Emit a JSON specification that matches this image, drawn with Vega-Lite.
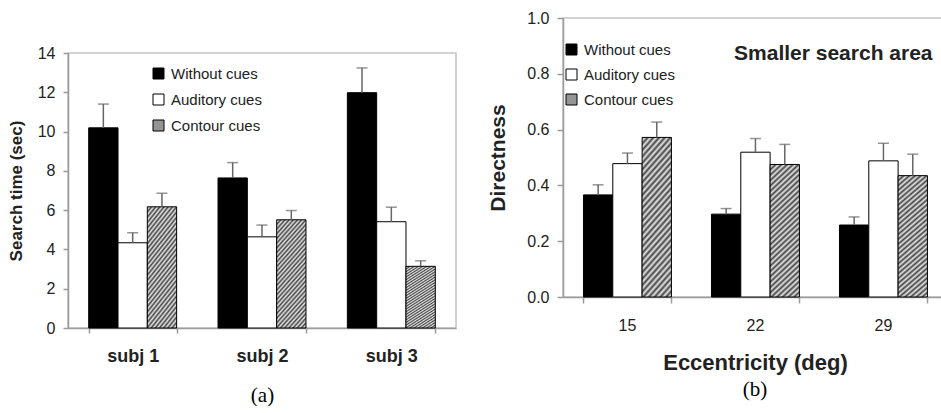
{
  "$schema": "https://vega.github.io/schema/vega-lite/v6.json",
  "padding": {"left": 6, "top": 9, "right": 0, "bottom": 0},
  "background": "white",
  "config": {
    "view": {"stroke": "#c4c4c4", "strokeWidth": 1.5},
    "font": "Liberation Sans",
    "axis": {"grid": false, "domainColor": "#9a9a9a", "tickColor": "#9a9a9a", "domainWidth": 1.5, "tickWidth": 1.5, "labelColor": "#222", "titleColor": "#222", "labelFont": "Liberation Sans", "titleFont": "Liberation Sans", "labelOverlap": false},
    "legend": {"padding": 0, "labelFont": "Liberation Sans", "labelColor": "#222"}
  },
  "datasets": {
    "a": [
      {"group": "subj 1", "cond": "Without cues", "value": 10.19, "upper": 11.40},
      {"group": "subj 1", "cond": "Auditory cues", "value": 4.34, "upper": 4.85},
      {"group": "subj 1", "cond": "Contour cues", "value": 6.17, "upper": 6.86},
      {"group": "subj 2", "cond": "Without cues", "value": 7.64, "upper": 8.42},
      {"group": "subj 2", "cond": "Auditory cues", "value": 4.64, "upper": 5.24},
      {"group": "subj 2", "cond": "Contour cues", "value": 5.51, "upper": 5.98},
      {"group": "subj 3", "cond": "Without cues", "value": 11.98, "upper": 13.24},
      {"group": "subj 3", "cond": "Auditory cues", "value": 5.41, "upper": 6.15},
      {"group": "subj 3", "cond": "Contour cues", "value": 3.14, "upper": 3.42}
    ],
    "b": [
      {"group": "15", "cond": "Without cues", "value": 0.366, "upper": 0.402},
      {"group": "15", "cond": "Auditory cues", "value": 0.478, "upper": 0.516},
      {"group": "15", "cond": "Contour cues", "value": 0.572, "upper": 0.627},
      {"group": "22", "cond": "Without cues", "value": 0.297, "upper": 0.317},
      {"group": "22", "cond": "Auditory cues", "value": 0.519, "upper": 0.568},
      {"group": "22", "cond": "Contour cues", "value": 0.475, "upper": 0.547},
      {"group": "29", "cond": "Without cues", "value": 0.258, "upper": 0.287},
      {"group": "29", "cond": "Auditory cues", "value": 0.488, "upper": 0.551},
      {"group": "29", "cond": "Contour cues", "value": 0.435, "upper": 0.512}
    ],
    "note": [{"label": "Smaller search area"}],
    "none": []
  },
  "resolve": {"scale": {"fill": "independent"}, "legend": {"fill": "independent"}},
  "spacing": 30,
  "hconcat": [
    {
      "spacing": 0,
      "vconcat": [
        {"width": 388, "height": 26, "data": {"name": "none"}, "mark": "point", "encoding": {}, "view": {"stroke": null}},
        {
          "width": 388,
          "height": 275,
          "data": {"name": "a"},
          "encoding": {
            "x": {"field": "group", "type": "nominal", "sort": null,
              "scale": {"paddingInner": 0.32, "paddingOuter": 0.16},
              "axis": {"title": "(a)", "titleFont": "Liberation Serif", "titleFontWeight": "normal", "titleFontSize": 21, "titleColor": "black", "titlePadding": 19,
                "labelAngle": 0, "labelFontSize": 18, "labelFontWeight": "bold", "labelPadding": 14, "tickBand": "extent", "tickSize": 5}},
            "xOffset": {"field": "cond", "type": "nominal", "sort": ["Without cues", "Auditory cues", "Contour cues"], "scale": {"paddingInner": 0, "paddingOuter": 0}}
          },
          "layer": [
            {
              "mark": {"type": "bar", "stroke": "black", "strokeWidth": 1},
              "encoding": {
                "y": {"field": "value", "type": "quantitative", "scale": {"domain": [0, 14], "nice": false},
                  "axis": {"values": [0, 2, 4, 6, 8, 10, 12, 14], "tickCount": 10, "labelOverlap": false, "title": "Search time (sec)", "titleFontSize": 17, "titleFontWeight": "bold", "titlePadding": 12, "labelFontSize": 16, "labelPadding": 8, "tickSize": 5}},
                "fill": {
                  "condition": {"test": "datum.cond === 'Contour cues'", "value": {"gradient": "linear", "x1": 0, "y1": 0, "x2": 0.362, "y2": 1.19, "stops": [
                      {"offset": 0, "color": "#444"}, {"offset": 0.0167, "color": "#e6e6e6"}, {"offset": 0.0333, "color": "#444"}, {"offset": 0.05, "color": "#e6e6e6"}, {"offset": 0.0667, "color": "#444"}, {"offset": 0.0833, "color": "#e6e6e6"}, {"offset": 0.1, "color": "#444"}, {"offset": 0.1167, "color": "#e6e6e6"}, {"offset": 0.1333, "color": "#444"}, {"offset": 0.15, "color": "#e6e6e6"}, {"offset": 0.1667, "color": "#444"}, {"offset": 0.1833, "color": "#e6e6e6"}, {"offset": 0.2, "color": "#444"}, {"offset": 0.2167, "color": "#e6e6e6"}, {"offset": 0.2333, "color": "#444"}, {"offset": 0.25, "color": "#e6e6e6"}, {"offset": 0.2667, "color": "#444"}, {"offset": 0.2833, "color": "#e6e6e6"}, {"offset": 0.3, "color": "#444"}, {"offset": 0.3167, "color": "#e6e6e6"}, {"offset": 0.3333, "color": "#444"}, {"offset": 0.35, "color": "#e6e6e6"}, {"offset": 0.3667, "color": "#444"}, {"offset": 0.3833, "color": "#e6e6e6"}, {"offset": 0.4, "color": "#444"}, {"offset": 0.4167, "color": "#e6e6e6"}, {"offset": 0.4333, "color": "#444"}, {"offset": 0.45, "color": "#e6e6e6"}, {"offset": 0.4667, "color": "#444"}, {"offset": 0.4833, "color": "#e6e6e6"}, {"offset": 0.5, "color": "#444"}, {"offset": 0.5167, "color": "#e6e6e6"}, {"offset": 0.5333, "color": "#444"}, {"offset": 0.55, "color": "#e6e6e6"}, {"offset": 0.5667, "color": "#444"}, {"offset": 0.5833, "color": "#e6e6e6"}, {"offset": 0.6, "color": "#444"}, {"offset": 0.6167, "color": "#e6e6e6"}, {"offset": 0.6333, "color": "#444"}, {"offset": 0.65, "color": "#e6e6e6"}, {"offset": 0.6667, "color": "#444"}, {"offset": 0.6833, "color": "#e6e6e6"}, {"offset": 0.7, "color": "#444"}, {"offset": 0.7167, "color": "#e6e6e6"}, {"offset": 0.7333, "color": "#444"}, {"offset": 0.75, "color": "#e6e6e6"}, {"offset": 0.7667, "color": "#444"}, {"offset": 0.7833, "color": "#e6e6e6"}, {"offset": 0.8, "color": "#444"}, {"offset": 0.8167, "color": "#e6e6e6"}, {"offset": 0.8333, "color": "#444"}, {"offset": 0.85, "color": "#e6e6e6"}, {"offset": 0.8667, "color": "#444"}, {"offset": 0.8833, "color": "#e6e6e6"}, {"offset": 0.9, "color": "#444"}, {"offset": 0.9167, "color": "#e6e6e6"}, {"offset": 0.9333, "color": "#444"}, {"offset": 0.95, "color": "#e6e6e6"}, {"offset": 0.9667, "color": "#444"}, {"offset": 0.9833, "color": "#e6e6e6"}, {"offset": 1, "color": "#444"}
                    ]}},
                  "field": "cond", "type": "nominal",
                  "scale": {"domain": ["Without cues", "Auditory cues", "Contour cues"], "range": ["black", "white", "#959595"]},
                  "legend": {"orient": "none", "legendX": 83, "legendY": 48, "title": null, "symbolType": "square", "symbolSize": 121, "symbolStrokeColor": "black", "symbolStrokeWidth": 1, "labelFontSize": 15, "labelOffset": 5, "rowPadding": 10,
                    "encode": {"symbols": {"update": {"stroke": {"value": "black"}, "strokeWidth": {"value": 1}, "fill": [
                      {"test": "datum.label === 'Without cues'", "value": "black"},
                      {"test": "datum.label === 'Auditory cues'", "value": "white"},
                      {"value": {"gradient": "linear", "x1": 0, "y1": 1, "x2": 0.5, "y2": 0.5, "stops": [{"offset": 0, "color": "#444"}, {"offset": 0.15, "color": "#e6e6e6"}, {"offset": 0.3, "color": "#444"}, {"offset": 0.45, "color": "#e6e6e6"}, {"offset": 0.6, "color": "#444"}, {"offset": 0.75, "color": "#e6e6e6"}, {"offset": 0.9, "color": "#444"}, {"offset": 1, "color": "#bbb"}]}}
                    ]}}}}
                }
              }
            },
            {
              "mark": {"type": "rule", "color": "#666", "strokeWidth": 1.5},
              "encoding": {"y": {"field": "value", "type": "quantitative"}, "y2": {"field": "upper"}}
            },
            {
              "mark": {"type": "tick", "color": "#666", "thickness": 1.5, "size": 11},
              "encoding": {"y": {"field": "upper", "type": "quantitative"}}
            }
          ]
        }
      ]
    },
    {
      "width": 384,
      "height": 279,
      "title": {"text": "(b)", "orient": "bottom", "font": "Liberation Serif", "fontWeight": "normal", "fontSize": 21, "color": "black", "offset": 6},
      "layer": [
        {
          "data": {"name": "b"},
          "encoding": {
            "x": {"field": "group", "type": "nominal", "sort": null,
              "scale": {"paddingInner": 0.32, "paddingOuter": 0.16},
              "axis": {"title": "Eccentricity (deg)", "titleFontSize": 22, "titleFontWeight": "bold", "titlePadding": 19,
                "labelAngle": 0, "labelFontSize": 16, "labelPadding": 14, "tickBand": "extent", "tickSize": 6}},
            "xOffset": {"field": "cond", "type": "nominal", "sort": ["Without cues", "Auditory cues", "Contour cues"], "scale": {"paddingInner": 0, "paddingOuter": 0}}
          },
          "layer": [
            {
              "mark": {"type": "bar", "stroke": "black", "strokeWidth": 1},
              "encoding": {
                "y": {"field": "value", "type": "quantitative", "scale": {"domain": [0, 1], "nice": false},
                  "axis": {"values": [0, 0.2, 0.4, 0.6, 0.8, 1], "tickCount": 8, "format": ".1f", "title": "Directness", "titleFontSize": 21, "titleFontWeight": "bold", "titlePadding": 18, "labelFontSize": 16, "labelPadding": 8, "tickSize": 6}},
                "fill": {
                  "condition": {"test": "datum.cond === 'Contour cues'", "value": {"gradient": "linear", "x1": 0, "y1": 0, "x2": 0.24, "y2": 1.16, "stops": [
                      {"offset": 0, "color": "#444"}, {"offset": 0.0167, "color": "#e6e6e6"}, {"offset": 0.0333, "color": "#444"}, {"offset": 0.05, "color": "#e6e6e6"}, {"offset": 0.0667, "color": "#444"}, {"offset": 0.0833, "color": "#e6e6e6"}, {"offset": 0.1, "color": "#444"}, {"offset": 0.1167, "color": "#e6e6e6"}, {"offset": 0.1333, "color": "#444"}, {"offset": 0.15, "color": "#e6e6e6"}, {"offset": 0.1667, "color": "#444"}, {"offset": 0.1833, "color": "#e6e6e6"}, {"offset": 0.2, "color": "#444"}, {"offset": 0.2167, "color": "#e6e6e6"}, {"offset": 0.2333, "color": "#444"}, {"offset": 0.25, "color": "#e6e6e6"}, {"offset": 0.2667, "color": "#444"}, {"offset": 0.2833, "color": "#e6e6e6"}, {"offset": 0.3, "color": "#444"}, {"offset": 0.3167, "color": "#e6e6e6"}, {"offset": 0.3333, "color": "#444"}, {"offset": 0.35, "color": "#e6e6e6"}, {"offset": 0.3667, "color": "#444"}, {"offset": 0.3833, "color": "#e6e6e6"}, {"offset": 0.4, "color": "#444"}, {"offset": 0.4167, "color": "#e6e6e6"}, {"offset": 0.4333, "color": "#444"}, {"offset": 0.45, "color": "#e6e6e6"}, {"offset": 0.4667, "color": "#444"}, {"offset": 0.4833, "color": "#e6e6e6"}, {"offset": 0.5, "color": "#444"}, {"offset": 0.5167, "color": "#e6e6e6"}, {"offset": 0.5333, "color": "#444"}, {"offset": 0.55, "color": "#e6e6e6"}, {"offset": 0.5667, "color": "#444"}, {"offset": 0.5833, "color": "#e6e6e6"}, {"offset": 0.6, "color": "#444"}, {"offset": 0.6167, "color": "#e6e6e6"}, {"offset": 0.6333, "color": "#444"}, {"offset": 0.65, "color": "#e6e6e6"}, {"offset": 0.6667, "color": "#444"}, {"offset": 0.6833, "color": "#e6e6e6"}, {"offset": 0.7, "color": "#444"}, {"offset": 0.7167, "color": "#e6e6e6"}, {"offset": 0.7333, "color": "#444"}, {"offset": 0.75, "color": "#e6e6e6"}, {"offset": 0.7667, "color": "#444"}, {"offset": 0.7833, "color": "#e6e6e6"}, {"offset": 0.8, "color": "#444"}, {"offset": 0.8167, "color": "#e6e6e6"}, {"offset": 0.8333, "color": "#444"}, {"offset": 0.85, "color": "#e6e6e6"}, {"offset": 0.8667, "color": "#444"}, {"offset": 0.8833, "color": "#e6e6e6"}, {"offset": 0.9, "color": "#444"}, {"offset": 0.9167, "color": "#e6e6e6"}, {"offset": 0.9333, "color": "#444"}, {"offset": 0.95, "color": "#e6e6e6"}, {"offset": 0.9667, "color": "#444"}, {"offset": 0.9833, "color": "#e6e6e6"}, {"offset": 1, "color": "#444"}
                    ]}},
                  "field": "cond", "type": "nominal",
                  "scale": {"domain": ["Without cues", "Auditory cues", "Contour cues"], "range": ["black", "white", "#959595"]},
                  "legend": {"orient": "none", "legendX": 1, "legendY": 24, "title": null, "symbolType": "square", "symbolSize": 121, "symbolStrokeColor": "black", "symbolStrokeWidth": 1, "labelFontSize": 15, "labelOffset": 5, "rowPadding": 9,
                    "encode": {"symbols": {"update": {"stroke": {"value": "black"}, "strokeWidth": {"value": 1}, "fill": [
                      {"test": "datum.label === 'Without cues'", "value": "black"},
                      {"test": "datum.label === 'Auditory cues'", "value": "white"},
                      {"value": {"gradient": "linear", "x1": 0, "y1": 1, "x2": 0.5, "y2": 0.5, "stops": [{"offset": 0, "color": "#444"}, {"offset": 0.15, "color": "#e6e6e6"}, {"offset": 0.3, "color": "#444"}, {"offset": 0.45, "color": "#e6e6e6"}, {"offset": 0.6, "color": "#444"}, {"offset": 0.75, "color": "#e6e6e6"}, {"offset": 0.9, "color": "#444"}, {"offset": 1, "color": "#bbb"}]}}
                    ]}}}}
                }
              }
            },
            {
              "mark": {"type": "rule", "color": "#666", "strokeWidth": 1.5},
              "encoding": {"y": {"field": "value", "type": "quantitative"}, "y2": {"field": "upper"}}
            },
            {
              "mark": {"type": "tick", "color": "#666", "thickness": 1.5, "size": 11},
              "encoding": {"y": {"field": "upper", "type": "quantitative"}}
            }
          ]
        },
        {
          "data": {"name": "note"},
          "mark": {"type": "text", "fontSize": 21, "fontWeight": "bold", "font": "Liberation Sans", "color": "#222", "align": "right", "baseline": "middle", "dx": 6},
          "encoding": {
            "x": {"datum": "29", "type": "nominal", "bandPosition": 1},
            "y": {"datum": 0.87, "type": "quantitative"},
            "text": {"field": "label"}
          }
        }
      ]
    }
  ]
}
